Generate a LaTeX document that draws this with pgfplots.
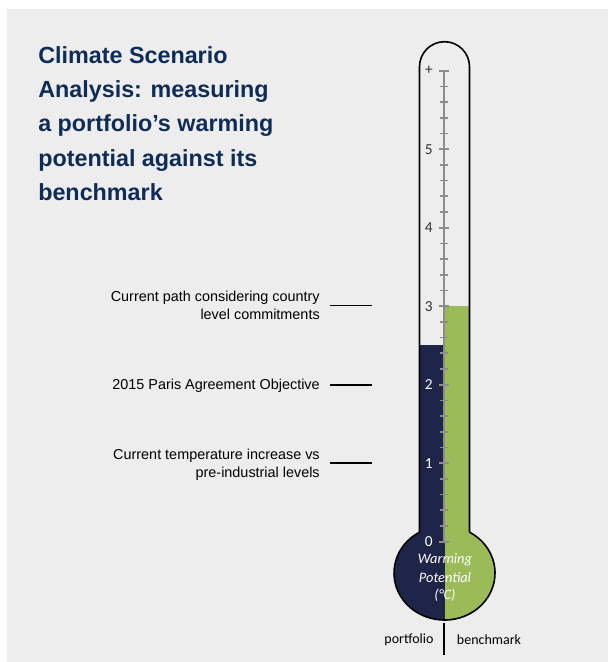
\documentclass[border=0pt]{standalone}
\usepackage{pgfplots}
\pgfplotsset{compat=1.18}
\usepackage{fontspec}
\setmainfont{Carlito}
\newfontfamily\titlefont{Liberation Sans}
\newfontfamily\annfont{Liberation Sans}
\definecolor{bg}{HTML}{EDEDED}
\definecolor{navybar}{RGB}{31,37,72}
\definecolor{bench}{HTML}{9BBB59}
\definecolor{titleblue}{RGB}{14,44,86}
\definecolor{axisgray}{HTML}{8C8C8C}
\definecolor{labgray}{HTML}{333333}
\begin{document}
\begin{tikzpicture}
% pixel scope helper: 1px = 0.75pt, rows counted from top
\tikzset{px/.style={x=0.75pt,y=-0.75pt,shift={(0pt,496.5pt)}}}
\begin{scope}[px]
  \fill[white] (0,0) rectangle (608,662);
  \fill[bg] (7,9) rectangle (608,662);
  % bulb fill
  \begin{scope}
    \clip (444.5,573) ellipse [x radius=50.5, y radius=47];
    \fill[navybar] (380,515) rectangle (444.5,630);
    \fill[bench] (444.5,515) rectangle (510,630);
  \end{scope}
\end{scope}
% bars
\begin{axis}[
  scale only axis, width=456pt, height=496.5pt,
  at={(0pt,0pt)}, anchor=south west,
  xmin=-444, xmax=164, ymin=-1.5325, ymax=6.9006,
  axis lines=none, clip=false]
\addplot[ybar, bar width=24, bar shift=0pt, fill=navybar, draw=none] coordinates {(-12,2.5)};
\addplot[ybar, bar width=25, bar shift=0pt, fill=bench, draw=none] coordinates {(12.5,3.0)};
\end{axis}
% scale axis
\begin{axis}[
  scale only axis, width=20pt, height=353.25pt,
  at={(333pt,90.225pt)}, anchor=south west,
  xmin=0, xmax=1, ymin=0, ymax=6,
  axis x line=none, axis y line=left,
  axis line style={-, draw=axisgray, line width=1.3pt},
  ytick={0,1,2,3,4,5,6},
  yticklabels={\textcolor{white}{0},\textcolor{white}{1},\textcolor{white}{2},3,4,5,+},
  minor y tick num=4,
  major tick length=7.5pt, minor tick length=6pt, tick align=center,
  tick style={line width=1.3pt, draw=axisgray},
  yticklabel style={font=\fontsize{11.5}{13}\selectfont, text=labgray, anchor=east, inner sep=0pt, xshift=-4.5pt},
  clip=false]
\end{axis}
\begin{scope}[px]
  % tube outline
  \draw[black, line width=1.2pt] (419.5,532.2) -- (419.5,66.7) arc[start angle=180, end angle=360, radius=25] -- (469.5,532.2);
  \draw[black, line width=1.2pt] (419.5,532.2) arc[start angle=240.3, end angle=-60.3, x radius=50.5, y radius=47];
  % bulb text
  \node[text=white, font=\itshape\fontsize{10.8}{12}\selectfont] at (445,560) {Warming};
  \node[text=white, font=\itshape\fontsize{10.8}{12}\selectfont] at (445,577.5) {Potential};
  \node[text=white, font=\itshape\fontsize{10.8}{12}\selectfont] at (445,595) {(°C)};
  % bottom labels
  \draw[black, line width=0.9pt] (444,623) -- (444,655);
  \node[font=\fontsize{10.5}{12}\selectfont] at (409,640) {portfolio};
  \node[font=\fontsize{10.5}{12}\selectfont] at (489,640) {benchmark};
  % annotations
  \foreach \r in {305.5,385,463} {\draw[black, line width=1.2pt] (330,\r) -- (372,\r);}
  \tikzset{ann/.style={anchor=base east, inner sep=0pt, font=\annfont\fontsize{10.8}{13}\selectfont, text=black}}
  \node[ann] at (320,301.7) {Current path considering country};
  \node[ann] at (320,319.3) {level commitments};
  \node[ann] at (320,390) {2015 Paris Agreement Objective};
  \node[ann] at (320,460) {Current temperature increase vs};
  \node[ann] at (320,477.5) {pre-industrial levels};
  % title
  \tikzset{ttl/.style={anchor=base west, inner sep=0pt, font=\titlefont\bfseries\fontsize{17.5}{20}\selectfont, text=titleblue}}
  \node[ttl] at (38,63.5) {Climate Scenario};
  \node[ttl] at (38,97.8) {Analysis: measuring};
  \node[ttl] at (38,132) {a portfolio’s warming};
  \node[ttl] at (38,166.2) {potential against its};
  \node[ttl] at (38,200.4) {benchmark};
\end{scope}
\pgfresetboundingbox
\path (0,0) rectangle (456pt,496.5pt);
\end{tikzpicture}
\end{document}
